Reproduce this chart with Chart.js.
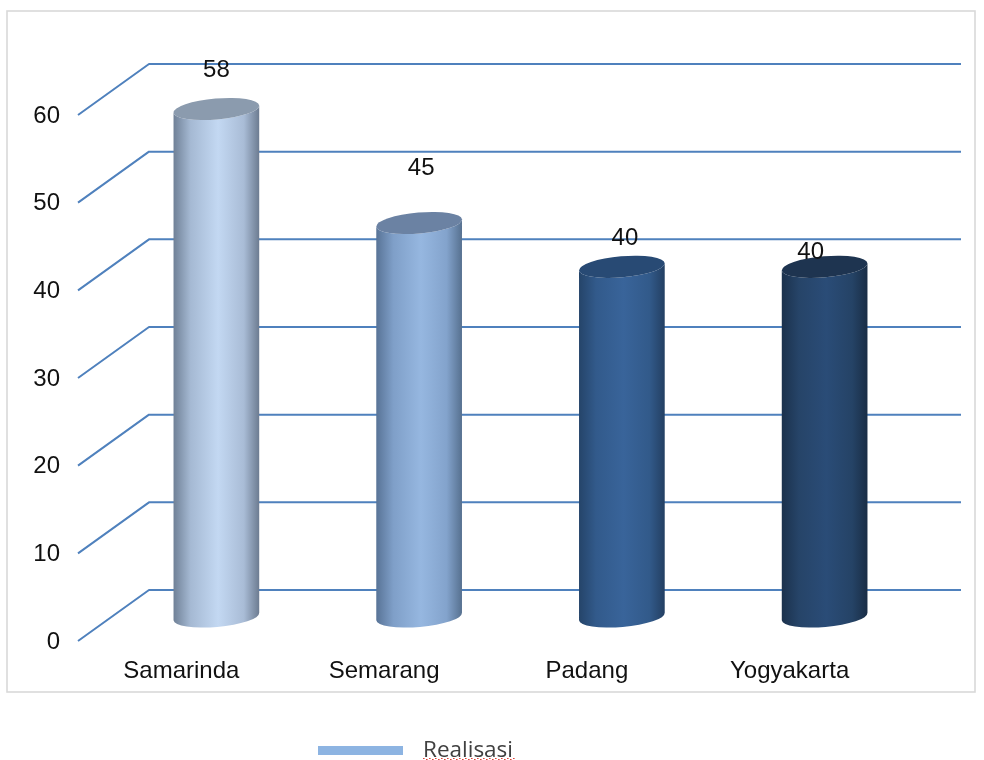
<!DOCTYPE html>
<html>
<head>
<meta charset="utf-8">
<style>
html,body{margin:0;padding:0;background:#fff;overflow:hidden}
#wrap{position:absolute;left:0;top:0;width:984px;height:760px}
</style>
<script src="https://cdn.jsdelivr.net/npm/chart.js@4"></script>
</head>
<body>
<div id="wrap"><canvas id="c" width="984" height="760"></canvas></div>
<script>
const categories = ['Samarinda', 'Semarang', 'Padang', 'Yogyakarta'];
const seriesName = 'Realisasi';
const realisasi = [58, 45, 40, 40];
const tickValues = [0, 10, 20, 30, 40, 50, 60];

const barStyles = [
  {edgeL:'#6f8096', soft:'#a5b9d3', mid:'#c3d8f2', softR:'#a9bcd6', edgeR:'#6c7b90', top:'#8b9bae'},
  {edgeL:'#587396', soft:'#7f9fc8', mid:'#96b7e0', softR:'#83a3cc', edgeR:'#56708f', top:'#6b82a3'},
  {edgeL:'#254469', soft:'#325a8b', mid:'#39649a', softR:'#325a8a', edgeR:'#233f62', top:'#284a74'},
  {edgeL:'#1b314c', soft:'#264468', mid:'#2a4c77', softR:'#254366', edgeR:'#192d45', top:'#1e3450'}
];
const labelNudges = [[0,-39],[2,-55],[3,-28],[-14,-14]];
const DEPTH_X = 70, DEPTH_Y = 51, CYL_DX = 35, CYL_DY = 23.5, BASE_DY = 24.5, RX = 43, RY = 10.5, TILT = -0.085;
const GRID = '#4f81bd';

const scene = {
  id: 'scene',
  beforeDatasetsDraw(chart) {
    const {ctx, chartArea, scales:{y}} = chart;
    ctx.save();
    ctx.strokeStyle = '#d9d9d9'; ctx.lineWidth = 1.6;
    ctx.strokeRect(7, 11, 968, 681);
    ctx.strokeStyle = GRID; ctx.lineWidth = 2; ctx.lineJoin = 'round';
    for (const v of tickValues) {
      const py = y.getPixelForValue(v);
      ctx.beginPath();
      ctx.moveTo(chartArea.left - 2, py);
      ctx.lineTo(chartArea.left - 2 + DEPTH_X + 1, py - DEPTH_Y);
      ctx.lineTo(961, py - DEPTH_Y);
      ctx.stroke();
    }
    ctx.restore();
  },
  afterDatasetsDraw(chart) {
    const {ctx, scales:{y}} = chart;
    const meta = chart.getDatasetMeta(0);
    const base = y.getPixelForValue(0) - BASE_DY;
    meta.data.forEach((el, i) => {
      const s = barStyles[i];
      const cx = el.x + CYL_DX, top = el.y - CYL_DY;
      const g = ctx.createLinearGradient(cx - RX, 0, cx + RX, 0);
      g.addColorStop(0, s.edgeL);
      g.addColorStop(0.2, s.soft);
      g.addColorStop(0.52, s.mid);
      g.addColorStop(0.82, s.softR);
      g.addColorStop(1, s.edgeR);
      ctx.save();
      ctx.fillStyle = g;
      ctx.beginPath();
      ctx.ellipse(cx, top, RX, RY, TILT, Math.PI, 0, true);
      ctx.ellipse(cx, base, RX, RY, TILT, 0, Math.PI, false);
      ctx.closePath();
      ctx.fill();
      ctx.beginPath();
      ctx.ellipse(cx, top, RX, RY, TILT, 0, Math.PI * 2);
      ctx.fillStyle = s.top;
      ctx.fill();
      ctx.restore();
      ctx.save();
      ctx.fillStyle = '#111';
      ctx.font = '24px "Liberation Sans"';
      ctx.textAlign = 'center';
      ctx.textBaseline = 'middle';
      ctx.fillText(String(realisasi[i]), cx + labelNudges[i][0], top + labelNudges[i][1]);
      ctx.restore();
    });
  },
  afterDraw(chart) {
    const {ctx} = chart;
    ctx.save();
    ctx.fillStyle = '#8db4e2';
    ctx.fillRect(318, 746, 85, 9);
    ctx.fillStyle = '#404040';
    ctx.font = '22.5px "Open Sans"';
    ctx.textAlign = 'left';
    ctx.textBaseline = 'middle';
    ctx.fillText(seriesName, 423, 751);
    ctx.fillStyle = '#e0403a';
    for (let x = 423; x < 514; x += 3) ctx.fillRect(x, 759 - (x % 2), 1.6, 1);
    ctx.restore();
  }
};

new Chart(document.getElementById('c'), {
  type: 'bar',
  data: {
    labels: categories,
    datasets: [{
      label: seriesName,
      data: realisasi,
      backgroundColor: 'rgba(0,0,0,0)',
      borderWidth: 0
    }]
  },
  options: {
    responsive: false,
    animation: false,
    layout: {padding: {top: 115, right: 93, bottom: 69, left: 0}},
    scales: {
      x: {
        grid: {display: false, drawTicks: false},
        border: {display: false},
        ticks: {color: '#111', font: {family: '"Liberation Sans"', size: 24}, padding: 16, maxRotation: 0, autoSkip: false},
        afterFit(s) { s.height = 50; }
      },
      y: {
        min: 0, max: 60,
        grid: {display: false, drawTicks: false},
        border: {display: false},
        afterBuildTicks(s) { s.ticks = tickValues.map(v => ({value: v})); },
        ticks: {color: '#111', font: {family: '"Liberation Sans"', size: 24}, padding: 20, labelOffset: 1},
        afterFit(s) { s.width = 80; }
      }
    },
    plugins: {
      tooltip: {enabled: false},
      legend: {display: false}
    }
  },
  plugins: [scene]
});
</script>
</body>
</html>
